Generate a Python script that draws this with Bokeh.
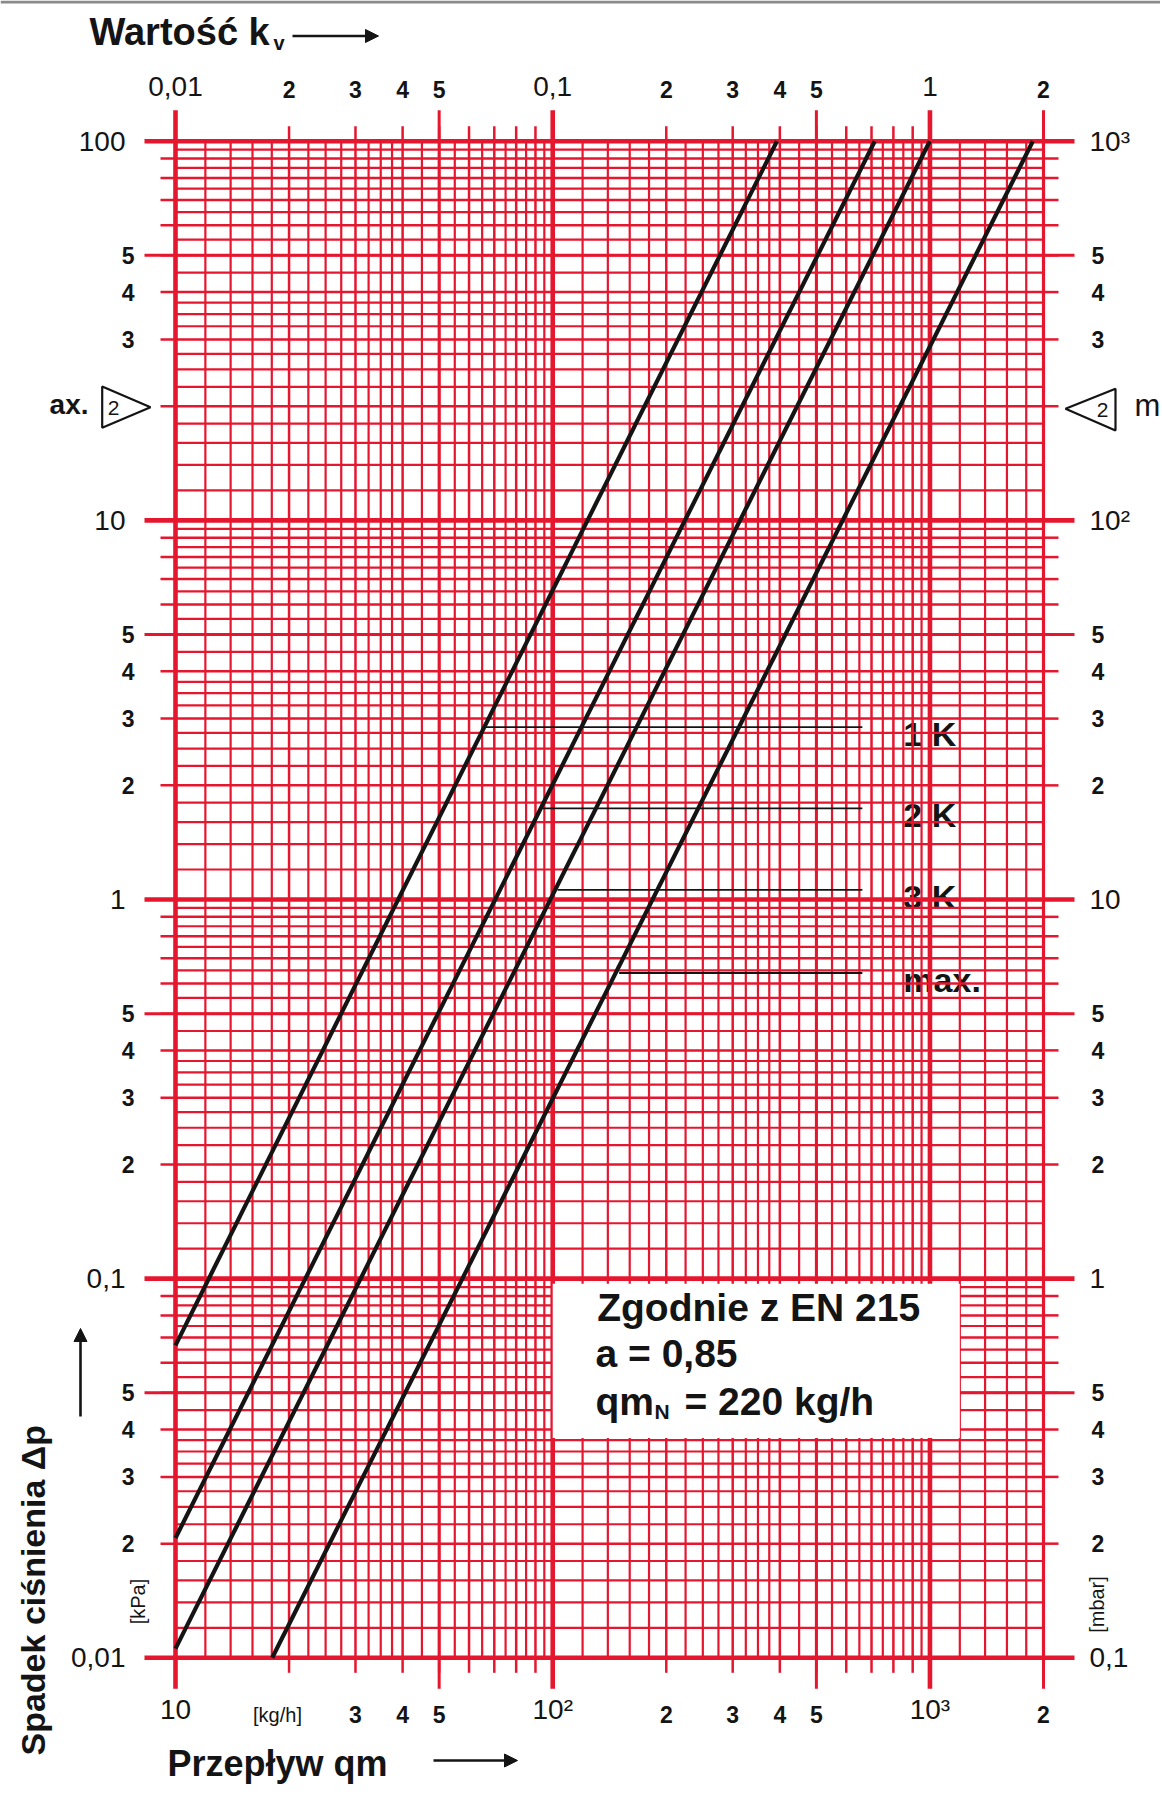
import math
from bokeh.plotting import figure
from bokeh.models import Range1d, ColumnDataSource, Arrow, NormalHead
from bokeh.core.properties import value
from bokeh.embed import file_html
from bokeh.resources import INLINE

# ---------------- values ----------------
qm_range = [10, 2000]        # flow qm [kg/h]
dp_range = [0.01, 100]       # pressure drop [kPa]

# characteristic lines (straight on log-log paper)
curve1_qm = [10, 393]
curve1_dp = [0.0667, 100]
curve2_qm = [10, 714]
curve2_dp = [0.0207, 100]
curve3_qm = [10, 999]
curve3_dp = [0.01057, 100]
curve4_qm = [18.05, 1874]
curve4_dp = [0.01, 100]

# proportional band marker lines
band_labels = ["1 K", "2 K", "3 K", "max."]
band_dp = [2.85, 1.74, 1.06, 0.64]
band_qm_start = [66, 94, 103, 150]
band_qm_end = [662, 662, 662, 662]

# note box
note_qm = [100, 1200]
note_dp = [0.038, 0.097]
note_line1 = "Zgodnie z EN 215"
note_line2 = "a = 0,85"
note_line3a = "qm"
note_line3b = "N"
note_line3c = "= 220 kg/h"

# log-paper grid subdivisions within one decade
grid_integers = [2, 3, 4, 5, 6, 7, 8, 9]
grid_fractions = [1.2, 1.4, 1.6, 1.8, 2.25, 2.5, 2.75, 3.25, 3.5, 3.75,
                  4.5, 5.5, 6.5, 7.5, 8.5, 9.5]
qm_decades = [10, 100, 1000]
dp_decades = [0.01, 0.1, 1, 10, 100]

# tick labels
bottom_decade_ticks = [10, 100, 1000]
bottom_decade_labels = ["10", "10²", "10³"]
top_decade_labels = ["0,01", "0,1", "1"]          # kv values
bottom_minor_ticks = [30, 40, 50, 200, 300, 400, 500, 2000]
bottom_minor_labels = ["3", "4", "5", "2", "3", "4", "5", "2"]
top_minor_ticks = [20, 30, 40, 50, 200, 300, 400, 500, 2000]
top_minor_labels = ["2", "3", "4", "5", "2", "3", "4", "5", "2"]
side_decade_ticks = [0.01, 0.1, 1, 10, 100]
left_decade_labels = ["0,01", "0,1", "1", "10", "100"]      # kPa
right_decade_labels = ["0,1", "1", "10", "10²", "10³"]      # mbar
side_minor_ticks = [0.02, 0.03, 0.04, 0.05, 0.2, 0.3, 0.4, 0.5,
                    2, 3, 4, 5, 30, 40, 50]
side_minor_labels = ["2", "3", "4", "5", "2", "3", "4", "5",
                     "2", "3", "4", "5", "3", "4", "5"]

# ---------------- styling / layout ----------------
RED = "#e5172f"
INK = "#141414"
FONT = "Liberation Sans"

W, H = 1160, 1790                       # canvas
PL, PR, PT, PB = 175.0, 1043.0, 140.7, 1657.3   # log-paper edges on the canvas
DX = (PR - PL) / math.log10(qm_range[1] / qm_range[0])
DY = (PB - PT) / math.log10(dp_range[1] / dp_range[0])


def X(px):
    """canvas x pixel -> qm (used only to place decorations)"""
    return qm_range[0] * 10 ** ((px - PL) / DX)


def Y(py):
    """canvas y pixel -> dp (used only to place decorations)"""
    return dp_range[1] * 10 ** (-(py - PT) / DY)


def within(vals, lo, hi):
    return [v for v in vals if lo * 0.9999 <= v <= hi * 1.0001]


p = figure(x_axis_type="log", y_axis_type="log",
           x_axis_location=None, y_axis_location=None, title=None,
           x_range=Range1d(X(0), X(W)), y_range=Range1d(Y(H), Y(0)),
           frame_width=W, frame_height=H, min_border=0,
           output_backend="svg", toolbar_location=None,
           background_fill_color="white", border_fill_color="white")
p.outline_line_color = None
p.grid.visible = False

# ---- tick positions ----
qm_int = within(sorted(set([round(d * m, 6) for d in qm_decades for m in [1] + grid_integers] + [2000])), *qm_range)
dp_int = within(sorted(set([round(d * m, 6) for d in dp_decades for m in [1] + grid_integers])), *dp_range)
qm_five = within([round(d * 5, 6) for d in qm_decades] + [2000], *qm_range)
dp_five = within([round(d * 5, 6) for d in dp_decades], *dp_range)
qm_sub = within([round(d * m, 6) for d in qm_decades for m in grid_fractions], *qm_range)
dp_sub = within([round(d * m, 6) for d in dp_decades for m in grid_fractions], *dp_range)
qm_mid = [v for v in qm_int if v not in qm_decades and v != 2000]
dp_mid = [v for v in dp_int if v not in dp_decades]


def vseg(xs, y0, y1, w, color=RED):
    p.segment(x0=xs, y0=y0, x1=xs, y1=y1, line_color=color, line_width=w)


def hseg(ys, x0, x1, w, color=RED):
    p.segment(x0=x0, y0=ys, x1=x1, y1=ys, line_color=color, line_width=w)


# thin grey scan border along the top edge
hseg([Y(1.5)], X(0), X(W), 3, color="#8a8a8a")

# marker labels first (the original grid runs over them)
band_src = ColumnDataSource(dict(x=band_qm_end, y=band_dp, t=band_labels))
p.text(x="x", y="y", text="t", source=band_src, x_offset=41, y_offset=7,
       text_font=value(FONT), text_font_style="bold", text_font_size="34px",
       text_color=INK, text_baseline="middle", text_align="left")

# ---- grid ----
vseg(qm_sub, dp_range[0], dp_range[1], 2.2)
vseg(qm_mid, dp_range[0], dp_range[1], 2.5)
vseg([qm_range[1]], dp_range[0], dp_range[1], 3.2)
hseg(dp_sub, qm_range[0], qm_range[1], 2.2)
hseg(dp_mid, qm_range[0], qm_range[1], 2.5)

# ---- ticks outside the paper (short 15 px, long 31 px) ----
short, long_ = 15, 31
vseg(qm_int, dp_range[1], Y(PT - short), 2.5)
vseg(qm_int, dp_range[0], Y(PB + short), 2.5)
hseg(dp_int, qm_range[0], X(PL - short), 2.5)
hseg(dp_int, qm_range[1], X(PR + short), 2.5)
vseg(qm_five, Y(PT - long_), Y(PB + long_), 3.0)
hseg(dp_five, X(PL - long_), X(PR + long_), 3.0)
vseg(qm_decades, Y(PT - long_), Y(PB + long_), 4.6)
hseg(dp_decades, X(PL - long_), X(PR + long_), 4.6)

# ---- note box ----
p.quad(left=[note_qm[0]], right=[note_qm[1]], bottom=[note_dp[0]], top=[note_dp[1]],
       fill_color="white", line_color=None)

# ---- marker lines ----
p.segment(x0=band_qm_start, y0=band_dp, x1=band_qm_end, y1=band_dp,
          line_color=INK, line_width=1.8)

# ---- characteristic curves ----
for cq, cd in ((curve1_qm, curve1_dp), (curve2_qm, curve2_dp),
               (curve3_qm, curve3_dp), (curve4_qm, curve4_dp)):
    p.line(cq, cd, line_color=INK, line_width=4.2)


# ---- texts (all anchored at their visual middle) ----
def texts(xs, ys, tt, size, bold=False, align="center", angle=0.0):
    src = ColumnDataSource(dict(x=xs, y=ys, t=tt))
    p.text(x="x", y="y", text="t", source=src, angle=angle,
           text_font=value(FONT), text_font_style="bold" if bold else "normal",
           text_font_size=size, text_color=INK, text_align=align, text_baseline="middle")


def text_at(px, py, t, size, bold=True, align="left", angle=0.0):
    texts([X(px)], [Y(py)], [t], size, bold, align, angle)


n_b, n_t, n_s = len(bottom_minor_ticks), len(top_minor_ticks), len(side_minor_ticks)
# decade labels
texts(bottom_decade_ticks, [Y(1709)] * 3, bottom_decade_labels, "28px")
texts(bottom_decade_ticks, [Y(86)] * 3, top_decade_labels, "28px")
texts([X(125)] * 5, side_decade_ticks, left_decade_labels, "28px", align="right")
texts([X(1089)] * 5, side_decade_ticks, right_decade_labels, "28px", align="left")
# minor labels
texts(top_minor_ticks, [Y(89)] * n_t, top_minor_labels, "23px", bold=True)
texts(bottom_minor_ticks, [Y(1714)] * n_b, bottom_minor_labels, "23px", bold=True)
texts([X(134)] * n_s, side_minor_ticks, side_minor_labels, "23px", bold=True, align="right")
texts([X(1091)] * n_s, side_minor_ticks, side_minor_labels, "23px", bold=True, align="left")

# unit labels
text_at(277, 1714, "[kg/h]", "20px", bold=False, align="center")
text_at(137, 1601, "[kPa]", "20px", bold=False, align="center", angle=math.pi / 2)
text_at(1096, 1604, "[mbar]", "20px", bold=False, align="center", angle=math.pi / 2)

# axis titles
text_at(89, 31.5, "Wartość k", "38px")
text_at(273, 42.5, "v", "20px")
text_at(167, 1763, "Przepływ qm", "36px")
text_at(32.5, 1755, "Spadek ciśnienia Δp", "34px", angle=math.pi / 2)

for (x0, y0, x1, y1) in ((292, 35.5, 378, 35.5), (433, 1760, 517, 1760), (80, 1416, 80, 1328)):
    p.add_layout(Arrow(x_start=X(x0), y_start=Y(y0), x_end=X(x1), y_end=Y(y1),
                       line_color=INK, line_width=2.6,
                       end=NormalHead(size=13, fill_color=INK, line_color=INK, line_width=1)))

# "max." limit markers at 20 kPa (cut off by the page edges on the original)
p.patches(xs=[[X(101.7), X(101.7), X(150)], [X(1065), X(1115), X(1115)]],
          ys=[[Y(386), Y(427.3), Y(406.7)], [Y(408.3), Y(388.3), Y(430)]],
          fill_color="white", line_color=INK, line_width=2.2)
text_at(113, 407, "2", "21px", bold=False, align="center")
text_at(1102, 409, "2", "21px", bold=False, align="center")
text_at(88, 404, "ax.", "28px", align="right")
text_at(1134, 404.5, "m", "31px", bold=False)

# note box texts
text_at(596.7, 1307, note_line1, "39px")
text_at(595, 1353, note_line2, "39px")
text_at(595, 1401.4, note_line3a, "39px")
text_at(654, 1410.5, note_line3b, "21px")
text_at(684, 1401.4, note_line3c, "39px")

open("out.html", "w").write(file_html(p, INLINE))
